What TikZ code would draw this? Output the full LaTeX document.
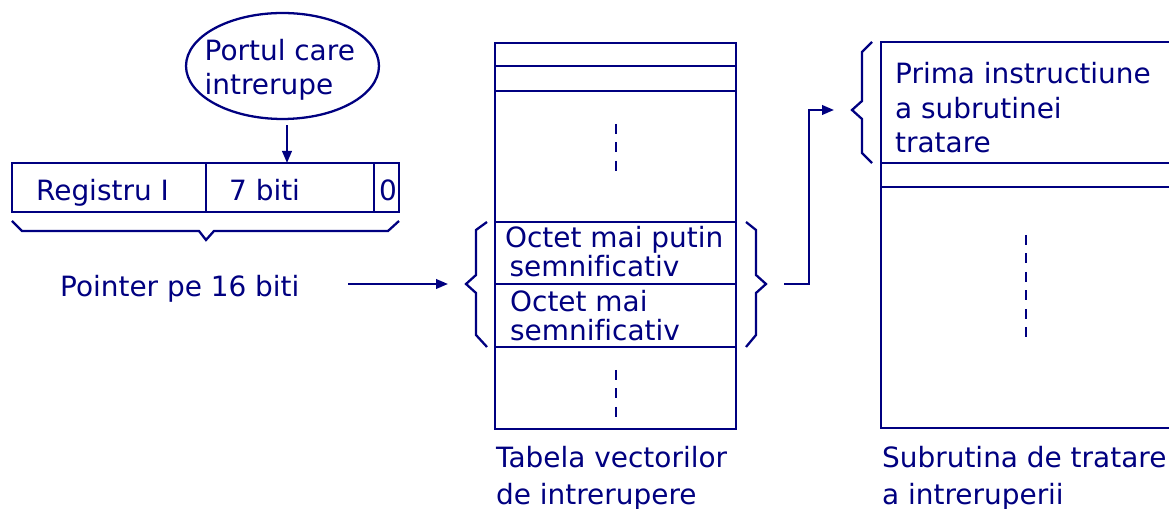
\documentclass[tikz,border=0pt]{standalone}
\usepackage{fontspec}
\setmainfont[Ligatures=NoCommon]{DejaVu Sans}
\usetikzlibrary{arrows.meta,shapes.geometric}
\definecolor{navyblue}{RGB}{0,0,128}
\newcommand{\txtsize}[1]{\fontsize{15.9}{#1}\selectfont}

\begin{document}
\begin{tikzpicture}[x=0.02cm,y=0.02cm, draw=navyblue, line width=1.3pt,
        every node/.style={text=navyblue, font=\txtsize{19}},
        word/.style={inner sep=0pt, anchor=base west},
        block/.style={inner sep=0pt, anchor=west, align=left},
        arr/.style={-{Triangle[length=0.24cm,width=0.19cm]}},
        dots/.style={dash pattern=on 0.2cm off 0.17cm}]
        \useasboundingbox (0,0) rectangle (1169,509);
        % port and register
        \node[draw, ellipse, minimum width=3.86cm, minimum height=2.12cm] (port) at (282.5,443) {};
        \node[block, font=\txtsize{19.3}] (porttext) at (203.5,439) {Portul care\\intrerupe};
        \draw (12,297) rectangle (399,346);
        \draw (206,297) -- (206,346);
        \draw (374,297) -- (374,346);
        \node[word] (regi) at (35,308) {Registru I};
        \node[word] (biti) at (228,308) {7 biti};
        \node[inner sep=0pt, anchor=base] (zero) at (388,308) {0};
        \coordinate (regin) at (287,346);
        \draw[arr, shorten <=0.1cm] (port.south -| regin) -- (regin);
        \draw (12,288) -- (22,278) -- (199,278) -- (206,269) -- (214,278) -- (388,278) -- (399,288);
        \node[word] (ptr) at (59,212) {Pointer pe 16 biti};
        % vector table
        \draw (495,80) rectangle (736,466);
        \draw (495,443) -- (736,443);
        \draw (495,418) -- (736,418);
        \draw (495,287) -- (736,287);
        \draw (495,225) -- (736,225);
        \draw (495,162) -- (736,162);
        \draw[dots] (616,385) -- (616,336);
        \draw[dots] (616,139) -- (616,90);
        \node[block, font=\txtsize{16.5}] (lowbyte) at (504,257) {Octet mai putin\\\hspace*{0.09cm}semnificativ};
        \node[block, font=\txtsize{16.5}] (highbyte) at (509,193.5) {Octet mai\\semnificativ};
        \draw (487,287) -- (476,279) -- (476,234) -- (466,225) -- (476,216) -- (476,174) -- (487,162);
        \draw (746,287) -- (756,279) -- (756,234) -- (766,225) -- (756,216) -- (756,174) -- (746,162);
        \coordinate (lbtip) at (466,225);
        \coordinate (rbtip) at (766,225);
        \coordinate (ptrout) at (348,225);
        \draw[arr, shorten >=0.36cm] (ptrout) -- (lbtip);
        \node[block, font=\txtsize{21}] (tablename) at (495,31) {Tabela vectorilor\\de intrerupere};
        % handler routine
        \draw (1169,467) -- (881,467) -- (881,81) -- (1169,81);
        \draw (881,346) -- (1169,346);
        \draw (881,322) -- (1169,322);
        \draw[dots] (1026,274) -- (1026,167);
        \draw (872,467) -- (862,457) -- (862,408) -- (852,399) -- (862,390) -- (862,356) -- (872,346);
        \coordinate (subtip) at (852,399);
        \draw[arr] ([xshift=0.36cm]rbtip) -- ++(25,0) |- ([xshift=-0.36cm]subtip);
        \node[block, font=\txtsize{19.6}] (firstinstr) at (894,401) {Prima instructiune\\a subrutinei\\tratare};
        \node[block, font=\txtsize{21}] (subname) at (881,31) {Subrutina de tratare\\a intreruperii};
\end{tikzpicture}
\end{document}
